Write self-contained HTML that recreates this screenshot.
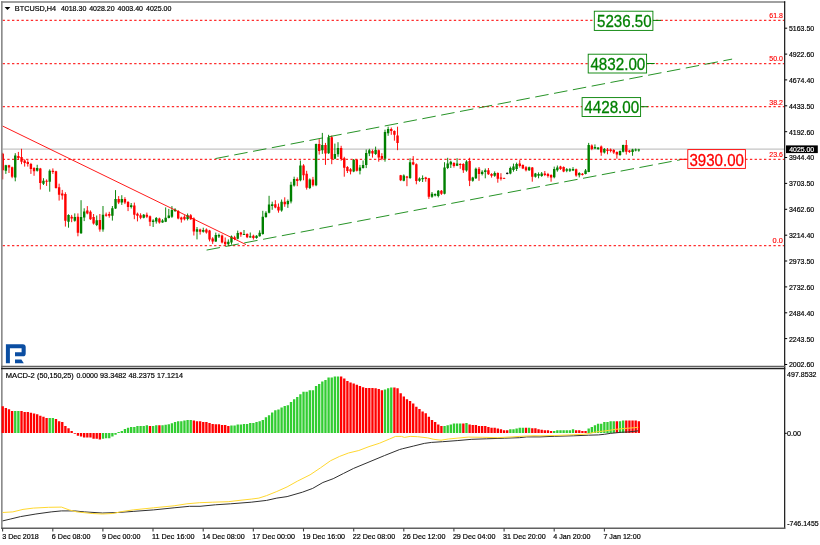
<!DOCTYPE html>
<html><head><meta charset="utf-8"><title>BTCUSD H4</title>
<style>html,body{margin:0;padding:0;background:#fff}svg{display:block;filter:blur(0.3px)}</style></head>
<body>
<svg width="820" height="545" viewBox="0 0 820 545" font-family='"Liberation Sans", sans-serif'>
<rect width="820" height="545" fill="#fff"/>
<g stroke="#ff0000" stroke-width="1.25" stroke-opacity="0.82" stroke-dasharray="2.35 2.35" fill="none">
<path d="M2.6 20.4H784"/>
<path d="M2.6 63.5H784"/>
<path d="M2.6 106.7H784"/>
<path d="M2.6 159.4H784"/>
<path d="M2.6 245.5H784"/>
</g>
<path d="M2.6 149.1H784.5" stroke="#c4c4c4" stroke-width="1.05"/>
<path d="M2.72 152.8V179.4M8.99 164.8V173.0M12.12 166.6V178.2M18.39 151.9V159.8M21.52 148.8V164.2M24.65 159.3V166.6M27.79 160.2V166.6M30.92 162.9V173.9M34.05 167.2V175.8M40.32 167.9V189.5M46.59 179.4V185.9M52.86 168.4V173.9M55.99 170.8V188.6M59.12 183.7V200.6M62.26 189.9V199.6M65.39 192.3V226.6M71.66 214.9V222.2M77.92 213.4V236.3M87.32 206.1V214.3M90.46 210.4V219.9M93.59 214.0V224.6M99.86 214.0V231.7M106.13 212.6V216.7M109.26 211.8V217.7M118.66 196.1V204.1M124.93 197.2V204.1M128.06 201.1V211.1M134.33 202.6V219.2M137.46 212.6V221.4M140.59 213.3V219.2M146.86 212.6V218.1M149.99 215.5V226.1M159.40 217.7V223.6M178.20 210.1V219.3M181.33 216.7V222.6M184.46 215.2V220.4M190.73 214.1V219.9M193.86 217.4V235.5M200.13 228.7V234.6M206.40 228.4V233.6M209.53 229.9V241.4M212.66 237.2V243.9M222.06 234.6V243.4M225.20 237.5V246.1M234.60 235.8V240.2M240.87 231.9V236.8M247.13 233.3V238.1M253.40 234.7V239.6M275.33 200.2V208.3M278.47 203.5V212.7M284.74 197.3V206.8M297.27 177.4V186.2M303.54 164.2V180.3M306.67 170.8V189.6M312.94 176.9V186.6M319.20 139.2V154.6M325.47 142.9V164.9M331.74 135.6V164.2M341.14 145.8V160.8M344.27 156.8V176.7M347.41 166.1V173.0M350.54 168.1V174.4M356.81 159.0V171.5M372.47 149.5V157.6M378.74 149.5V161.7M381.87 153.2V160.2M391.27 127.5V134.8M394.41 130.4V140.7M397.54 126.7V150.2M400.67 174.9V181.1M406.94 175.9V186.2M413.21 156.1V165.2M416.34 163.4V184.3M425.74 176.8V181.7M428.88 177.9V198.9M441.41 190.0V194.9M453.94 162.2V167.6M460.21 163.2V168.8M463.34 163.2V172.9M469.61 157.8V186.1M479.01 167.0V180.8M488.41 168.0V174.9M491.55 173.2V177.6M497.81 172.4V182.7M500.95 173.2V180.5M504.08 177.6V179.0M519.75 160.2V167.6M522.88 164.4V169.1M526.01 166.1V171.4M532.28 167.0V181.7M544.82 171.0V176.1M547.95 172.9V177.6M551.08 174.3V181.7M560.48 165.8V169.9M563.62 166.4V172.2M576.15 168.6V176.7M582.42 173.0V175.5M591.82 144.4V150.2M601.22 145.5V155.8M607.49 148.0V154.3M610.62 148.5V152.4M613.75 149.1V153.9M616.89 151.4V158.7M626.29 140.0V154.6M629.42 149.9V152.9" stroke="#ff0000" stroke-width="0.95" fill="none"/>
<path d="M1.52 153.8h2.4V170.3h-2.4zM7.79 165.3h2.4V167.5h-2.4zM10.92 167.2h2.4V176.7h-2.4zM17.19 156.1h2.4V158.0h-2.4zM20.32 156.9h2.4V161.7h-2.4zM23.45 160.6h2.4V162.9h-2.4zM26.59 162.0h2.4V163.9h-2.4zM29.72 163.9h2.4V169.0h-2.4zM32.85 167.9h2.4V171.2h-2.4zM39.12 168.4h2.4V183.1h-2.4zM45.39 180.7h2.4V181.8h-2.4zM51.66 170.8h2.4V172.1h-2.4zM54.79 171.2h2.4V188.1h-2.4zM57.92 187.3h2.4V194.7h-2.4zM61.06 193.6h2.4V195.4h-2.4zM64.19 194.1h2.4V220.7h-2.4zM70.46 216.7h2.4V218.5h-2.4zM76.72 216.7h2.4V232.7h-2.4zM86.12 210.6h2.4V213.4h-2.4zM89.26 211.8h2.4V219.2h-2.4zM92.39 217.0h2.4V223.6h-2.4zM98.66 219.9h2.4V229.4h-2.4zM104.93 214.5h2.4V215.8h-2.4zM108.06 214.0h2.4V215.8h-2.4zM117.46 199.1h2.4V202.6h-2.4zM123.73 199.1h2.4V202.6h-2.4zM126.86 202.0h2.4V207.0h-2.4zM133.13 205.5h2.4V214.8h-2.4zM136.26 213.7h2.4V215.8h-2.4zM139.39 215.2h2.4V217.7h-2.4zM145.66 214.8h2.4V216.7h-2.4zM148.79 216.2h2.4V221.7h-2.4zM158.20 218.4h2.4V222.6h-2.4zM177.00 211.1h2.4V218.5h-2.4zM180.13 217.4h2.4V219.6h-2.4zM183.26 216.7h2.4V219.3h-2.4zM189.53 215.2h2.4V219.3h-2.4zM192.66 218.5h2.4V231.4h-2.4zM198.93 229.6h2.4V231.7h-2.4zM205.20 229.6h2.4V232.6h-2.4zM208.33 230.6h2.4V239.4h-2.4zM211.46 238.4h2.4V241.4h-2.4zM220.87 235.5h2.4V242.4h-2.4zM224.00 241.7h2.4V244.3h-2.4zM233.40 237.2h2.4V239.0h-2.4zM239.67 232.5h2.4V234.6h-2.4zM245.93 234.0h2.4V237.2h-2.4zM252.20 235.8h2.4V238.1h-2.4zM274.13 204.3h2.4V207.6h-2.4zM277.27 206.8h2.4V210.5h-2.4zM283.54 201.7h2.4V204.3h-2.4zM296.07 178.9h2.4V181.1h-2.4zM302.34 165.6h2.4V175.2h-2.4zM305.47 173.7h2.4V187.7h-2.4zM311.74 179.6h2.4V185.2h-2.4zM318.00 144.1h2.4V151.0h-2.4zM324.27 145.1h2.4V153.5h-2.4zM330.54 137.3h2.4V159.0h-2.4zM339.94 148.0h2.4V159.0h-2.4zM343.07 158.3h2.4V167.8h-2.4zM346.21 167.1h2.4V171.1h-2.4zM349.34 169.3h2.4V171.5h-2.4zM355.61 159.8h2.4V170.8h-2.4zM371.27 151.0h2.4V153.5h-2.4zM377.54 150.2h2.4V157.6h-2.4zM380.67 156.1h2.4V158.7h-2.4zM390.07 128.9h2.4V130.9h-2.4zM393.21 130.9h2.4V134.8h-2.4zM396.34 135.6h2.4V142.9h-2.4zM399.47 175.2h2.4V180.3h-2.4zM405.74 176.4h2.4V177.8h-2.4zM412.01 162.3h2.4V164.6h-2.4zM415.14 164.2h2.4V181.1h-2.4zM424.54 177.6h2.4V179.0h-2.4zM427.68 178.3h2.4V196.7h-2.4zM440.21 190.8h2.4V193.7h-2.4zM452.74 162.9h2.4V166.1h-2.4zM459.01 164.1h2.4V165.1h-2.4zM462.14 164.1h2.4V170.2h-2.4zM468.41 161.1h2.4V180.8h-2.4zM477.81 168.8h2.4V173.9h-2.4zM487.21 170.2h2.4V174.3h-2.4zM490.35 173.9h2.4V175.8h-2.4zM496.61 172.9h2.4V178.7h-2.4zM499.75 177.6h2.4V178.7h-2.4zM502.88 177.9h2.4V178.8h-2.4zM518.55 163.6h2.4V166.1h-2.4zM521.68 165.1h2.4V168.5h-2.4zM524.81 167.3h2.4V170.2h-2.4zM531.08 167.6h2.4V176.8h-2.4zM543.62 173.5h2.4V174.9h-2.4zM546.75 173.9h2.4V176.1h-2.4zM549.88 174.9h2.4V177.6h-2.4zM559.28 166.6h2.4V169.1h-2.4zM562.42 167.1h2.4V171.5h-2.4zM574.95 169.3h2.4V175.5h-2.4zM581.22 173.7h2.4V174.9h-2.4zM590.62 145.5h2.4V149.1h-2.4zM600.02 146.6h2.4V152.4h-2.4zM606.29 149.5h2.4V151.0h-2.4zM609.42 149.5h2.4V151.0h-2.4zM612.55 149.9h2.4V152.4h-2.4zM615.69 152.0h2.4V154.6h-2.4zM625.09 145.1h2.4V151.7h-2.4zM628.22 150.5h2.4V152.0h-2.4z" fill="#ff0000"/>
<path d="M5.85 164.8V173.9M15.25 153.2V181.3M37.19 164.8V171.6M43.46 178.2V185.0M49.72 169.4V191.7M68.52 214.3V227.7M74.79 213.4V221.7M81.06 200.2V233.9M84.19 208.3V221.1M96.73 215.5V226.1M102.99 206.0V231.7M112.39 206.0V220.6M115.53 190.1V208.9M121.79 195.2V204.9M131.19 203.0V208.5M143.73 214.0V218.4M153.13 219.2V227.0M156.26 217.0V223.6M162.53 219.2V222.8M165.66 207.4V222.1M168.80 208.9V218.4M171.93 206.1V217.9M175.06 208.2V212.0M187.60 213.5V220.4M197.00 227.0V239.4M203.26 227.7V232.6M215.80 232.6V241.9M218.93 233.6V238.0M228.33 239.4V245.8M231.47 235.5V244.6M237.73 230.6V239.4M244.00 230.0V235.0M250.27 232.5V237.7M256.53 235.2V238.7M259.67 230.3V236.6M262.80 210.8V234.7M265.93 211.2V217.8M269.07 195.8V213.4M272.20 201.7V209.8M281.60 199.5V211.7M287.87 199.5V207.9M291.00 181.8V203.4M294.14 176.7V186.6M300.40 160.5V181.3M309.80 178.4V189.1M316.07 143.6V186.2M322.34 132.9V153.9M328.60 134.8V153.9M334.87 143.6V159.3M338.00 142.2V156.8M353.67 159.0V172.2M359.94 164.9V174.4M363.07 160.5V168.6M366.21 149.5V168.1M369.34 148.8V156.1M375.61 146.6V154.9M385.01 129.7V161.7M388.14 126.7V135.8M403.81 174.4V181.3M410.08 158.3V178.9M419.48 177.4V181.8M422.61 175.4V182.0M432.01 192.0V197.8M435.14 193.4V196.4M438.28 190.0V197.4M444.54 162.2V194.4M447.68 157.8V169.1M450.81 160.7V168.0M457.08 158.2V166.1M466.48 160.2V171.7M472.75 176.8V181.7M475.88 167.6V179.0M482.15 170.2V175.4M485.28 168.5V178.3M494.68 171.4V176.8M510.35 166.6V174.3M513.48 163.6V171.7M516.61 162.6V171.0M529.15 166.6V171.0M535.42 172.9V177.6M538.55 172.4V178.3M541.68 172.0V176.8M554.22 166.6V178.3M557.35 165.5V171.7M566.75 168.1V172.2M569.88 168.1V172.0M573.02 167.1V171.1M579.28 172.2V177.4M585.55 169.0V174.4M588.68 142.9V172.2M594.95 144.4V149.1M598.09 147.3V149.9M604.35 148.0V153.5M620.02 150.5V155.8M623.15 144.7V152.4M632.55 148.8V155.8M635.69 148.5V151.4M638.82 148.8V151.7" stroke="#008000" stroke-width="0.95" fill="none"/>
<path d="M4.65 165.3h2.4V170.8h-2.4zM14.05 155.6h2.4V177.6h-2.4zM35.99 167.9h2.4V170.8h-2.4zM42.26 180.7h2.4V183.7h-2.4zM48.52 170.8h2.4V181.8h-2.4zM67.32 214.9h2.4V221.7h-2.4zM73.59 217.1h2.4V220.7h-2.4zM79.86 217.1h2.4V233.2h-2.4zM82.99 211.6h2.4V217.4h-2.4zM95.53 220.2h2.4V225.0h-2.4zM101.79 214.8h2.4V229.4h-2.4zM111.19 208.2h2.4V215.8h-2.4zM114.33 199.1h2.4V208.5h-2.4zM120.59 199.1h2.4V202.6h-2.4zM129.99 205.2h2.4V207.0h-2.4zM142.53 214.8h2.4V217.7h-2.4zM151.93 220.6h2.4V222.1h-2.4zM155.06 218.1h2.4V221.4h-2.4zM161.33 220.6h2.4V222.6h-2.4zM164.46 217.7h2.4V221.7h-2.4zM167.60 215.5h2.4V218.1h-2.4zM170.73 210.1h2.4V216.7h-2.4zM173.86 209.4h2.4V211.1h-2.4zM186.40 215.2h2.4V218.9h-2.4zM195.80 229.2h2.4V231.7h-2.4zM202.06 229.9h2.4V231.7h-2.4zM214.60 235.0h2.4V241.4h-2.4zM217.73 235.0h2.4V236.5h-2.4zM227.13 241.7h2.4V244.3h-2.4zM230.27 236.5h2.4V242.4h-2.4zM236.53 233.1h2.4V238.7h-2.4zM242.80 233.9h2.4V234.9h-2.4zM249.07 236.2h2.4V237.4h-2.4zM255.33 235.8h2.4V238.1h-2.4zM258.47 232.8h2.4V236.2h-2.4zM261.60 216.7h2.4V234.0h-2.4zM264.73 212.7h2.4V217.1h-2.4zM267.87 204.6h2.4V212.7h-2.4zM271.00 204.3h2.4V206.1h-2.4zM280.40 201.7h2.4V210.5h-2.4zM286.67 201.0h2.4V204.3h-2.4zM289.80 184.7h2.4V201.6h-2.4zM292.94 178.9h2.4V185.5h-2.4zM299.20 165.6h2.4V180.3h-2.4zM308.60 179.6h2.4V188.1h-2.4zM314.87 144.1h2.4V185.2h-2.4zM321.14 145.1h2.4V150.2h-2.4zM327.40 137.3h2.4V153.2h-2.4zM333.67 153.9h2.4V158.7h-2.4zM336.80 148.0h2.4V154.3h-2.4zM352.47 159.8h2.4V171.5h-2.4zM358.74 167.6h2.4V170.8h-2.4zM361.87 164.9h2.4V168.1h-2.4zM365.01 152.9h2.4V164.9h-2.4zM368.14 150.2h2.4V153.5h-2.4zM374.41 149.9h2.4V153.9h-2.4zM383.81 131.9h2.4V158.7h-2.4zM386.94 128.9h2.4V133.3h-2.4zM402.61 175.5h2.4V180.8h-2.4zM408.88 162.3h2.4V178.1h-2.4zM418.28 178.4h2.4V180.8h-2.4zM421.41 177.9h2.4V179.3h-2.4zM430.81 193.7h2.4V196.7h-2.4zM433.94 194.0h2.4V195.5h-2.4zM437.08 190.8h2.4V195.9h-2.4zM443.34 167.6h2.4V193.7h-2.4zM446.48 163.6h2.4V168.0h-2.4zM449.61 161.7h2.4V164.4h-2.4zM455.88 163.6h2.4V165.8h-2.4zM465.28 161.4h2.4V170.5h-2.4zM471.55 177.6h2.4V180.8h-2.4zM474.68 168.8h2.4V178.3h-2.4zM480.95 171.7h2.4V173.9h-2.4zM484.08 170.2h2.4V172.0h-2.4zM493.48 172.9h2.4V175.8h-2.4zM509.15 168.0h2.4V173.5h-2.4zM512.28 166.6h2.4V169.9h-2.4zM515.41 164.1h2.4V169.1h-2.4zM527.95 167.3h2.4V170.2h-2.4zM534.22 173.5h2.4V176.8h-2.4zM537.35 173.9h2.4V175.8h-2.4zM540.48 173.5h2.4V176.1h-2.4zM553.02 169.1h2.4V177.3h-2.4zM556.15 167.6h2.4V170.2h-2.4zM565.55 169.3h2.4V170.8h-2.4zM568.68 169.3h2.4V170.8h-2.4zM571.82 169.0h2.4V170.5h-2.4zM578.08 173.0h2.4V175.2h-2.4zM584.35 170.5h2.4V174.0h-2.4zM587.48 145.1h2.4V172.0h-2.4zM593.75 147.0h2.4V148.5h-2.4zM596.88 147.6h2.4V149.1h-2.4zM603.15 149.1h2.4V152.4h-2.4zM618.82 151.0h2.4V154.9h-2.4zM621.95 145.1h2.4V151.7h-2.4zM631.35 149.5h2.4V152.0h-2.4zM634.49 149.5h2.4V150.5h-2.4zM637.62 149.5h2.4V150.5h-2.4z" fill="#008000"/>
<path d="M507.21 172.4V174.3" stroke="#000" stroke-width="0.95" fill="none"/>
<path d="M506.01 172.9h2.4V173.8h-2.4z" fill="#000"/>
<path d="M2.5 126L246 244.6" stroke="#ff0000" stroke-width="0.9" fill="none"/>
<g stroke="#008000" stroke-width="0.85" fill="none" stroke-dasharray="13.6 5.56" stroke-dashoffset="-0.6">
<path d="M214.8 158.7L732.1 59.1"/>
<path d="M206 250.2L680.1 159.8"/>
</g>
<path d="M652.9 20.4H661" stroke="#008000" stroke-width="1"/>
<rect x="594.3" y="11.2" width="58.6" height="19.2" fill="#fff" stroke="#008000" stroke-width="0.9"/>
<text x="597.1" y="27.1" font-size="16.8" fill="#008000" stroke="#008000" stroke-width="0.3" textLength="54.5" lengthAdjust="spacingAndGlyphs">5236.50</text>
<path d="M646.6 63.5H654.7" stroke="#008000" stroke-width="1"/>
<rect x="588.2" y="54.2" width="58.4" height="18.8" fill="#fff" stroke="#008000" stroke-width="0.9"/>
<text x="590.4" y="69.8" font-size="16.8" fill="#008000" stroke="#008000" stroke-width="0.3" textLength="54.9" lengthAdjust="spacingAndGlyphs">4832.00</text>
<path d="M640.6 106.7H648" stroke="#008000" stroke-width="1"/>
<rect x="582.1" y="97.6" width="58.5" height="18.9" fill="#fff" stroke="#008000" stroke-width="0.9"/>
<text x="584.3" y="113.2" font-size="16.8" fill="#008000" stroke="#008000" stroke-width="0.3" textLength="54.9" lengthAdjust="spacingAndGlyphs">4428.00</text>
<path d="M679.5 159.3H687.8" stroke="#ff0000" stroke-width="1"/>
<rect x="687.8" y="149.6" width="57.6" height="18.8" fill="#fff" stroke="#ff0000" stroke-width="0.9"/>
<text x="689.4" y="165.5" font-size="16.8" fill="#ff0000" stroke="#ff0000" stroke-width="0.3" textLength="54.6" lengthAdjust="spacingAndGlyphs">3930.00</text>
<g stroke="#808080" stroke-width="1.5" fill="none">
<path d="M1.85 1.2V528.8"/>
<path d="M1.1 1.9H785.2"/>
</g>
<path d="M784.7 1.2V528.8" stroke="#000" stroke-width="1.1"/>
<path d="M1.1 366.4H785.3" stroke="#606060" stroke-width="1.4"/>
<path d="M1.1 368.5H785.3" stroke="#202020" stroke-width="1.3"/>
<path d="M1.1 528.2H785.3" stroke="#606060" stroke-width="1.4"/>
<g font-size="8" fill="#000" stroke="#000" stroke-width="0.2">
<text x="788.9" y="31.1" textLength="25.3" lengthAdjust="spacingAndGlyphs">5163.50</text>
<text x="788.9" y="57.0" textLength="25.3" lengthAdjust="spacingAndGlyphs">4922.60</text>
<text x="788.9" y="82.8" textLength="25.3" lengthAdjust="spacingAndGlyphs">4674.40</text>
<text x="788.9" y="108.7" textLength="25.3" lengthAdjust="spacingAndGlyphs">4433.50</text>
<text x="788.9" y="134.6" textLength="25.3" lengthAdjust="spacingAndGlyphs">4192.60</text>
<text x="788.9" y="160.4" textLength="25.3" lengthAdjust="spacingAndGlyphs">3944.40</text>
<text x="788.9" y="186.3" textLength="25.3" lengthAdjust="spacingAndGlyphs">3703.50</text>
<text x="788.9" y="212.2" textLength="25.3" lengthAdjust="spacingAndGlyphs">3462.60</text>
<text x="788.9" y="238.1" textLength="25.3" lengthAdjust="spacingAndGlyphs">3214.40</text>
<text x="788.9" y="263.9" textLength="25.3" lengthAdjust="spacingAndGlyphs">2973.50</text>
<text x="788.9" y="289.8" textLength="25.3" lengthAdjust="spacingAndGlyphs">2732.60</text>
<text x="788.9" y="315.7" textLength="25.3" lengthAdjust="spacingAndGlyphs">2484.40</text>
<text x="788.9" y="341.5" textLength="25.3" lengthAdjust="spacingAndGlyphs">2243.50</text>
<text x="788.9" y="367.4" textLength="25.3" lengthAdjust="spacingAndGlyphs">2002.60</text>
<text x="787.1" y="376.8" textLength="29.4" lengthAdjust="spacingAndGlyphs">497.8532</text>
<text x="787.1" y="436" textLength="14" lengthAdjust="spacingAndGlyphs">0.00</text>
<text x="787.3" y="525.9" textLength="31.4" lengthAdjust="spacingAndGlyphs">-746.1455</text>
</g>
<path d="M785 28.2h2.2M785 54.1h2.2M785 79.9h2.2M785 105.8h2.2M785 131.7h2.2M785 157.5h2.2M785 183.4h2.2M785 209.3h2.2M785 235.2h2.2M785 261.0h2.2M785 286.9h2.2M785 312.8h2.2M785 338.6h2.2M785 364.5h2.2M785 433.3h1.8" stroke="#000" stroke-width="1"/>
<rect x="786" y="145.4" width="31.8" height="7.7" fill="#000"/>
<text x="789.2" y="152.2" font-size="8" fill="#fff" stroke="#fff" stroke-width="0.2" textLength="25" lengthAdjust="spacingAndGlyphs">4025.00</text>
<g font-size="7.8" fill="#ff0000" stroke="#ff0000" stroke-width="0.15">
<text x="769.3" y="18.3" textLength="13.6" lengthAdjust="spacingAndGlyphs">61.8</text>
<text x="769.3" y="61.4" textLength="13.6" lengthAdjust="spacingAndGlyphs">50.0</text>
<text x="769.3" y="104.6" textLength="13.6" lengthAdjust="spacingAndGlyphs">38.2</text>
<text x="769.3" y="157.3" textLength="13.6" lengthAdjust="spacingAndGlyphs">23.6</text>
<text x="772.6" y="243.4" textLength="10.3" lengthAdjust="spacingAndGlyphs">0.0</text>
</g>
<path d="M4.6 6.9h5.8l-2.9 3.2z" fill="#000"/>
<g font-size="7.8" fill="#000" stroke="#000" stroke-width="0.2">
<text x="14.8" y="11" textLength="41.4" lengthAdjust="spacingAndGlyphs">BTCUSD,H4</text>
<text x="60.9" y="11" textLength="25.4" lengthAdjust="spacingAndGlyphs">4018.30</text>
<text x="89.2" y="11" textLength="25.4" lengthAdjust="spacingAndGlyphs">4028.20</text>
<text x="117.6" y="11" textLength="25.4" lengthAdjust="spacingAndGlyphs">4003.40</text>
<text x="146" y="11" textLength="25.4" lengthAdjust="spacingAndGlyphs">4025.00</text>
<text x="5.8" y="377.8" textLength="29.0" lengthAdjust="spacingAndGlyphs">MACD-2</text>
<text x="37.1" y="377.8" textLength="36.6" lengthAdjust="spacingAndGlyphs">(50,150,25)</text>
<text x="76.5" y="377.8" textLength="21.3" lengthAdjust="spacingAndGlyphs">0.0000</text>
<text x="100.1" y="377.8" textLength="26.2" lengthAdjust="spacingAndGlyphs">93.3482</text>
<text x="128.6" y="377.8" textLength="26.2" lengthAdjust="spacingAndGlyphs">48.2375</text>
<text x="157.1" y="377.8" textLength="25.9" lengthAdjust="spacingAndGlyphs">17.1214</text>
</g>
<path fill="#0b4ea2" d="M5.9 344.2H22.8Q25.7 344.2 25.7 347.1V353.4Q25.7 356.3 22.8 356.3H15V352.2H21.6V348.2H9.9V363.2H5.9z M15 359.6H21.4L23.8 363.2H15z"/>
<path d="M1.55 406.3h2.35V432.9h-2.35zM4.68 408.1h2.35V432.9h-2.35zM7.81 409.3h2.35V432.9h-2.35zM10.95 411.0h2.35V432.9h-2.35zM20.35 411.0h2.35V432.9h-2.35zM23.48 411.9h2.35V432.9h-2.35zM26.61 411.9h2.35V432.9h-2.35zM29.75 412.7h2.35V432.9h-2.35zM32.88 413.6h2.35V432.9h-2.35zM36.01 414.2h2.35V432.9h-2.35zM39.15 415.7h2.35V432.9h-2.35zM42.28 416.8h2.35V432.9h-2.35zM45.41 418.0h2.35V432.9h-2.35zM54.81 419.1h2.35V432.9h-2.35zM57.95 421.2h2.35V432.9h-2.35zM61.08 422.1h2.35V432.9h-2.35zM64.22 426.0h2.35V432.9h-2.35zM67.35 428.3h2.35V432.9h-2.35zM70.48 430.9h2.35V432.9h-2.35zM73.62 432.9h2.35V433.7h-2.35zM76.75 432.9h2.35V435.7h-2.35zM79.88 432.9h2.35V436.6h-2.35zM83.02 432.9h2.35V437.5h-2.35zM86.15 432.9h2.35V437.5h-2.35zM89.28 432.9h2.35V437.5h-2.35zM92.42 432.9h2.35V438.8h-2.35zM95.55 432.9h2.35V438.8h-2.35zM98.68 432.9h2.35V439.6h-2.35zM148.82 426.1h2.35V432.9h-2.35zM158.22 425.3h2.35V432.9h-2.35zM192.69 420.6h2.35V432.9h-2.35zM195.82 421.2h2.35V432.9h-2.35zM198.96 421.3h2.35V432.9h-2.35zM202.09 422.1h2.35V432.9h-2.35zM205.22 422.1h2.35V432.9h-2.35zM208.36 423.1h2.35V432.9h-2.35zM211.49 424.0h2.35V432.9h-2.35zM214.62 424.3h2.35V432.9h-2.35zM217.76 424.3h2.35V432.9h-2.35zM220.89 425.0h2.35V432.9h-2.35zM224.02 425.0h2.35V432.9h-2.35zM227.16 426.0h2.35V432.9h-2.35zM339.96 376.6h2.35V432.9h-2.35zM343.10 378.5h2.35V432.9h-2.35zM346.23 381.0h2.35V432.9h-2.35zM349.36 382.5h2.35V432.9h-2.35zM352.50 383.5h2.35V432.9h-2.35zM355.63 384.7h2.35V432.9h-2.35zM358.76 386.1h2.35V432.9h-2.35zM361.90 387.3h2.35V432.9h-2.35zM365.03 387.9h2.35V432.9h-2.35zM368.16 387.9h2.35V432.9h-2.35zM371.30 387.9h2.35V432.9h-2.35zM374.43 388.3h2.35V432.9h-2.35zM377.57 389.1h2.35V432.9h-2.35zM380.70 390.2h2.35V432.9h-2.35zM393.23 387.6h2.35V432.9h-2.35zM396.37 388.3h2.35V432.9h-2.35zM399.50 393.2h2.35V432.9h-2.35zM402.63 396.4h2.35V432.9h-2.35zM405.77 399.3h2.35V432.9h-2.35zM408.90 401.1h2.35V432.9h-2.35zM412.03 403.4h2.35V432.9h-2.35zM415.17 406.7h2.35V432.9h-2.35zM418.30 408.9h2.35V432.9h-2.35zM421.43 411.4h2.35V432.9h-2.35zM424.57 413.3h2.35V432.9h-2.35zM427.70 416.7h2.35V432.9h-2.35zM430.83 420.0h2.35V432.9h-2.35zM433.97 422.1h2.35V432.9h-2.35zM437.10 424.4h2.35V432.9h-2.35zM440.24 426.0h2.35V432.9h-2.35zM462.17 423.6h2.35V432.9h-2.35zM468.44 424.4h2.35V432.9h-2.35zM471.57 425.1h2.35V432.9h-2.35zM474.70 425.1h2.35V432.9h-2.35zM477.84 426.0h2.35V432.9h-2.35zM480.97 426.0h2.35V432.9h-2.35zM484.10 426.0h2.35V432.9h-2.35zM487.24 427.0h2.35V432.9h-2.35zM490.37 427.7h2.35V432.9h-2.35zM493.50 427.7h2.35V432.9h-2.35zM496.64 428.5h2.35V432.9h-2.35zM499.77 429.3h2.35V432.9h-2.35zM502.91 430.2h2.35V432.9h-2.35zM506.04 430.2h2.35V432.9h-2.35zM524.84 427.7h2.35V432.9h-2.35zM531.11 428.3h2.35V432.9h-2.35zM534.24 428.3h2.35V432.9h-2.35zM537.37 429.3h2.35V432.9h-2.35zM540.51 429.8h2.35V432.9h-2.35zM543.64 430.2h2.35V432.9h-2.35zM546.77 430.2h2.35V432.9h-2.35zM549.91 431.1h2.35V432.9h-2.35zM574.98 430.2h2.35V432.9h-2.35zM578.11 430.2h2.35V432.9h-2.35zM581.24 431.1h2.35V432.9h-2.35zM584.38 431.1h2.35V432.9h-2.35zM615.71 421.2h2.35V432.9h-2.35zM625.11 420.6h2.35V432.9h-2.35zM628.25 420.6h2.35V432.9h-2.35zM631.38 420.6h2.35V432.9h-2.35zM634.51 420.6h2.35V432.9h-2.35zM637.65 421.2h2.35V432.9h-2.35z" fill="#ff0000"/>
<path d="M14.08 411.0h2.35V432.9h-2.35zM17.21 411.0h2.35V432.9h-2.35zM48.55 418.0h2.35V432.9h-2.35zM51.68 418.0h2.35V432.9h-2.35zM101.82 432.9h2.35V438.8h-2.35zM104.95 432.9h2.35V438.3h-2.35zM108.08 432.9h2.35V438.3h-2.35zM111.22 432.9h2.35V436.6h-2.35zM114.35 432.9h2.35V434.7h-2.35zM117.48 432.1h2.35V432.9h-2.35zM120.62 430.9h2.35V432.9h-2.35zM123.75 428.9h2.35V432.9h-2.35zM126.89 427.7h2.35V432.9h-2.35zM130.02 427.0h2.35V432.9h-2.35zM133.15 427.0h2.35V432.9h-2.35zM136.29 426.1h2.35V432.9h-2.35zM139.42 426.1h2.35V432.9h-2.35zM142.55 426.1h2.35V432.9h-2.35zM145.69 425.3h2.35V432.9h-2.35zM151.95 426.1h2.35V432.9h-2.35zM155.09 425.3h2.35V432.9h-2.35zM161.35 425.3h2.35V432.9h-2.35zM164.49 424.7h2.35V432.9h-2.35zM167.62 424.2h2.35V432.9h-2.35zM170.75 423.2h2.35V432.9h-2.35zM173.89 422.1h2.35V432.9h-2.35zM177.02 421.2h2.35V432.9h-2.35zM180.15 421.2h2.35V432.9h-2.35zM183.29 420.6h2.35V432.9h-2.35zM186.42 420.0h2.35V432.9h-2.35zM189.56 420.0h2.35V432.9h-2.35zM230.29 425.5h2.35V432.9h-2.35zM233.42 425.5h2.35V432.9h-2.35zM236.56 424.6h2.35V432.9h-2.35zM239.69 424.6h2.35V432.9h-2.35zM242.82 424.0h2.35V432.9h-2.35zM245.96 424.0h2.35V432.9h-2.35zM249.09 423.1h2.35V432.9h-2.35zM252.22 423.1h2.35V432.9h-2.35zM255.36 422.1h2.35V432.9h-2.35zM258.49 421.3h2.35V432.9h-2.35zM261.63 419.9h2.35V432.9h-2.35zM264.76 417.2h2.35V432.9h-2.35zM267.89 415.2h2.35V432.9h-2.35zM271.03 412.5h2.35V432.9h-2.35zM274.16 410.3h2.35V432.9h-2.35zM277.29 409.6h2.35V432.9h-2.35zM280.43 407.4h2.35V432.9h-2.35zM283.56 405.9h2.35V432.9h-2.35zM286.69 405.2h2.35V432.9h-2.35zM289.83 402.0h2.35V432.9h-2.35zM292.96 399.3h2.35V432.9h-2.35zM296.09 397.1h2.35V432.9h-2.35zM299.23 394.2h2.35V432.9h-2.35zM302.36 391.7h2.35V432.9h-2.35zM305.49 391.7h2.35V432.9h-2.35zM308.63 390.2h2.35V432.9h-2.35zM311.76 390.2h2.35V432.9h-2.35zM314.90 386.1h2.35V432.9h-2.35zM318.03 383.9h2.35V432.9h-2.35zM321.16 381.4h2.35V432.9h-2.35zM324.30 380.0h2.35V432.9h-2.35zM327.43 377.6h2.35V432.9h-2.35zM330.56 377.6h2.35V432.9h-2.35zM333.70 376.6h2.35V432.9h-2.35zM336.83 376.6h2.35V432.9h-2.35zM383.83 389.4h2.35V432.9h-2.35zM386.97 388.3h2.35V432.9h-2.35zM390.10 387.6h2.35V432.9h-2.35zM443.37 426.0h2.35V432.9h-2.35zM446.50 425.3h2.35V432.9h-2.35zM449.64 424.4h2.35V432.9h-2.35zM452.77 423.6h2.35V432.9h-2.35zM455.90 423.6h2.35V432.9h-2.35zM459.04 423.6h2.35V432.9h-2.35zM465.30 422.9h2.35V432.9h-2.35zM509.17 429.3h2.35V432.9h-2.35zM512.31 429.3h2.35V432.9h-2.35zM515.44 428.5h2.35V432.9h-2.35zM518.57 427.7h2.35V432.9h-2.35zM521.71 427.7h2.35V432.9h-2.35zM527.97 427.7h2.35V432.9h-2.35zM553.04 431.1h2.35V432.9h-2.35zM556.17 430.2h2.35V432.9h-2.35zM559.31 430.2h2.35V432.9h-2.35zM562.44 430.2h2.35V432.9h-2.35zM565.58 430.2h2.35V432.9h-2.35zM568.71 430.2h2.35V432.9h-2.35zM571.84 429.3h2.35V432.9h-2.35zM587.51 428.5h2.35V432.9h-2.35zM590.64 427.0h2.35V432.9h-2.35zM593.78 425.3h2.35V432.9h-2.35zM596.91 423.8h2.35V432.9h-2.35zM600.04 423.8h2.35V432.9h-2.35zM603.18 422.1h2.35V432.9h-2.35zM606.31 422.1h2.35V432.9h-2.35zM609.44 421.2h2.35V432.9h-2.35zM612.58 421.2h2.35V432.9h-2.35zM618.84 421.2h2.35V432.9h-2.35zM621.98 420.6h2.35V432.9h-2.35z" fill="#32cd32"/>
<path d="M2.6 520.9L10.2 519.1L20.5 516.6L35.9 514.0L51.2 511.9L61.5 510.9L74.3 510.9L84.5 511.9L102.4 513.0L117.8 512.5L133.2 511.4L153.6 509.9L174.1 507.8L189.5 506.3L200.0 506.3L215.4 504.8L230.7 503.8L251.2 502.2L266.6 500.4L276.8 498.1L287.1 496.6L302.4 492.2L312.7 488.4L322.9 482.5L333.2 478.7L343.4 473.5L353.6 468.4L369.0 462.0L384.4 455.6L399.7 449.5L402.3 448.8L413.3 446.1L424.3 443.4L431.6 442.4L442.6 441.7L457.2 440.6L471.8 439.3L486.5 438.8L504.7 438.2L519.4 437.7L526.7 436.9L540.0 436.9L554.6 436.3L573.7 435.8L588.3 435.2L598.5 434.9L604.4 434.3L610.2 433.4L616.1 432.8L622.0 432.2L627.8 432.0L633.7 431.4L638.3 430.8" stroke="#303030" stroke-width="1" fill="none" stroke-linejoin="round"/>
<path d="M2.6 512.5L12.8 511.9L23.0 509.4L33.3 508.1L48.7 507.3L61.5 507.1L69.1 509.9L76.8 511.9L92.2 513.5L102.4 514.0L112.7 513.5L122.9 511.4L133.2 509.9L153.6 507.8L174.1 505.8L186.9 503.8L199.7 502.7L200.0 502.7L212.8 502.2L228.2 501.7L241.0 500.2L251.2 499.1L258.9 498.1L266.6 495.6L276.8 491.5L287.1 486.9L297.3 481.2L310.1 474.8L320.4 467.9L330.6 460.7L339.6 456.4L348.5 453.0L358.8 450.5L369.0 446.6L379.3 443.3L389.5 439.0L395.6 436.4L401.5 436.4L404.4 437.4L410.2 436.4L417.6 436.7L427.8 437.9L433.7 439.3L441 440.2L448.3 439L460 437.9L468.2 437.1L482.8 437.3L497.4 437.7L512.1 436.9L523.0 436.2L534.0 435.7L540.0 435.8L554.6 435.5L569.3 434.9L583.9 434.3L589.8 433.4L595.6 432.0L602.9 431.2L610.2 430.2L616.1 429.3L622.0 428.7L627.8 428.2L633.7 427.8L638.3 427.3" stroke="#ffd830" stroke-width="1" fill="none" stroke-linejoin="round"/>
<g font-size="7.8" fill="#000" stroke="#000" stroke-width="0.2">
<text x="2.2" y="538.8" textLength="36.6" lengthAdjust="spacingAndGlyphs">3 Dec 2018</text>
<text x="51.8" y="538.8" textLength="38.6" lengthAdjust="spacingAndGlyphs">6 Dec 08:00</text>
<text x="101.9" y="538.8" textLength="38.6" lengthAdjust="spacingAndGlyphs">9 Dec 00:00</text>
<text x="152.0" y="538.8" textLength="42.6" lengthAdjust="spacingAndGlyphs">11 Dec 16:00</text>
<text x="202.2" y="538.8" textLength="42.6" lengthAdjust="spacingAndGlyphs">14 Dec 08:00</text>
<text x="252.3" y="538.8" textLength="42.6" lengthAdjust="spacingAndGlyphs">17 Dec 00:00</text>
<text x="302.5" y="538.8" textLength="42.6" lengthAdjust="spacingAndGlyphs">19 Dec 16:00</text>
<text x="352.7" y="538.8" textLength="42.6" lengthAdjust="spacingAndGlyphs">22 Dec 08:00</text>
<text x="402.8" y="538.8" textLength="42.6" lengthAdjust="spacingAndGlyphs">26 Dec 12:00</text>
<text x="452.9" y="538.8" textLength="42.6" lengthAdjust="spacingAndGlyphs">29 Dec 04:00</text>
<text x="503.1" y="538.8" textLength="42.6" lengthAdjust="spacingAndGlyphs">31 Dec 20:00</text>
<text x="553.2" y="538.8" textLength="37.4" lengthAdjust="spacingAndGlyphs">4 Jan 20:00</text>
<text x="603.4" y="538.8" textLength="37.4" lengthAdjust="spacingAndGlyphs">7 Jan 12:00</text>
</g>
<path d="M2.6 528.2v3.2M52.8 528.2v3.2M102.9 528.2v3.2M153.0 528.2v3.2M203.2 528.2v3.2M253.3 528.2v3.2M303.5 528.2v3.2M353.7 528.2v3.2M403.8 528.2v3.2M453.9 528.2v3.2M504.1 528.2v3.2M554.2 528.2v3.2M604.4 528.2v3.2" stroke="#404040" stroke-width="1.1"/>
</svg>
</body></html>
